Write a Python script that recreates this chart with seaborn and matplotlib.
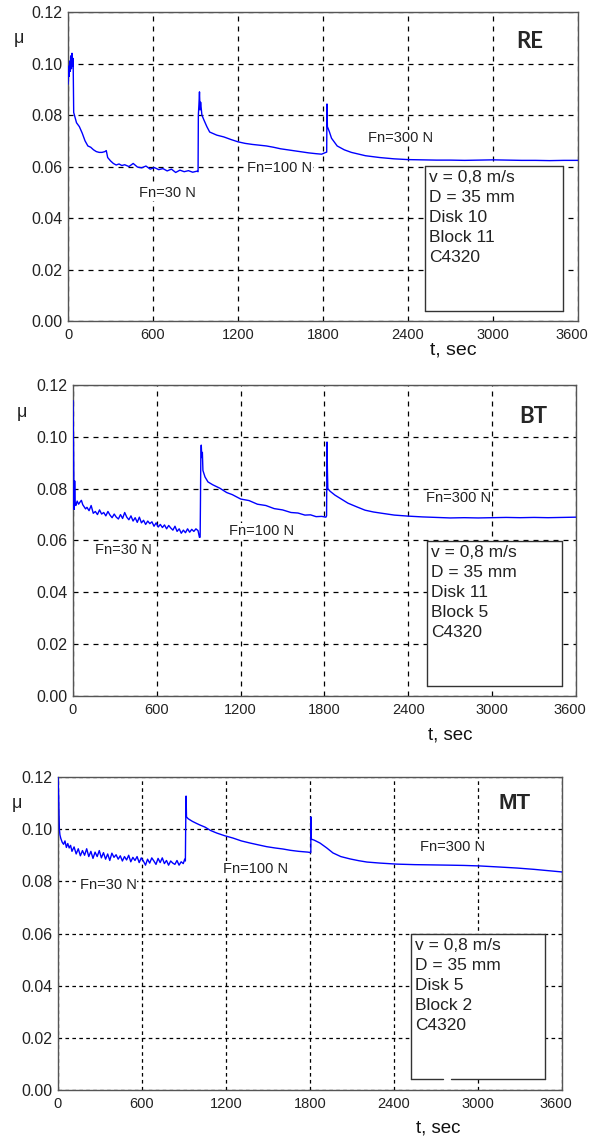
import matplotlib
matplotlib.use("Agg")
import matplotlib.pyplot as plt
import matplotlib.transforms as mtransforms
import seaborn as sns
import pandas as pd
from matplotlib.patches import Rectangle

# estilo
sns.set_style("white")
plt.rcParams["font.family"] = ["Liberation Sans", "DejaVu Sans"]
plt.rcParams["lines.scale_dashes"] = False

# eixos (comuns)
x_ticks = [0, 600, 1200, 1800, 2400, 3000, 3600]
y_ticks = [0.00, 0.02, 0.04, 0.06, 0.08, 0.10, 0.12]
box_lines = ["v = 0,8 m/s", "D = 35 mm"]

# ---------------- RE ----------------
re_t1 = [0, 4, 8, 12, 16, 20, 24, 28, 32, 36, 40, 50, 60, 80, 100, 120, 140, 160, 180, 200,
         220, 240, 260, 270, 280, 300, 320, 340, 360, 380, 400, 430, 460, 490, 520, 550, 580, 610, 640, 670,
         700, 730, 760, 790, 820, 850, 880, 910]
re_mu1 = [0.092, 0.099, 0.095, 0.101, 0.097, 0.103, 0.098, 0.104, 0.099, 0.102,
          0.081, 0.079, 0.077, 0.0755, 0.073, 0.070, 0.068, 0.0675, 0.0665, 0.0658,
          0.0655, 0.0655, 0.0658, 0.0662, 0.0635, 0.0622, 0.0612, 0.0606, 0.0610, 0.0604,
          0.0607, 0.0600, 0.0612, 0.0598, 0.0595, 0.0602, 0.0590, 0.0596, 0.0588, 0.0592,
          0.0583, 0.0590, 0.0577, 0.0586, 0.0580, 0.0584, 0.0578, 0.0582]
re_t2 = [918, 920, 924, 928, 932, 936, 945, 960, 980, 1000, 1050, 1100, 1150, 1200, 1250, 1300,
         1350, 1400, 1450, 1500, 1550, 1600, 1650, 1700, 1750, 1790, 1820]
re_mu2 = [0.058, 0.080, 0.084, 0.089, 0.082, 0.085, 0.080, 0.078, 0.0755, 0.0734, 0.0722, 0.0715,
          0.0705, 0.0696, 0.0690, 0.0686, 0.0683, 0.0680, 0.0675, 0.0669, 0.0665, 0.0661, 0.0657,
          0.0653, 0.0650, 0.0648, 0.0655]
re_t3 = [1826, 1828, 1831, 1845, 1860, 1880, 1900, 1950, 2000, 2100, 2200, 2300, 2400, 2500,
         2600, 2700, 2800, 2900, 3000, 3100, 3200, 3300, 3400, 3500, 3600]
re_mu3 = [0.0656, 0.0843, 0.0755, 0.0735, 0.0710, 0.0695, 0.0680, 0.0665, 0.0655, 0.0642, 0.0635,
          0.0630, 0.0627, 0.0626, 0.0625, 0.0625, 0.0624, 0.0625, 0.0626, 0.0625, 0.0624, 0.0624,
          0.0623, 0.0624, 0.0624]

# ---------------- BT ----------------
bt_t1 = [0, 4, 8, 12, 16, 20, 30, 40, 50, 60, 70, 80, 90, 100, 115, 130, 145, 160, 175, 190,
         205, 220, 235, 250, 265, 280, 295, 310, 325, 340, 355, 370, 385, 400, 415, 430, 445, 460,
         475, 490, 505, 520, 535, 550, 565, 580, 595, 610, 625, 640, 655, 670, 685, 700, 715, 730,
         745, 760, 775, 790, 805, 820, 835, 850, 865, 880, 895, 905]
bt_mu1 = [0.114, 0.095, 0.072, 0.083, 0.0745, 0.0735, 0.0752, 0.0740, 0.0748, 0.0755,
          0.0738, 0.0730, 0.0722, 0.0728, 0.0715, 0.0735, 0.0705, 0.0712, 0.0700, 0.0718,
          0.0702, 0.0708, 0.0695, 0.0712, 0.0698, 0.0688, 0.0702, 0.0690, 0.0683, 0.0700,
          0.0685, 0.0708, 0.0690, 0.0680, 0.0695, 0.0675, 0.0688, 0.0670, 0.0690, 0.0668,
          0.0678, 0.0662, 0.0675, 0.0665, 0.0672, 0.0655, 0.0668, 0.0652, 0.0662, 0.0650,
          0.0660, 0.0645, 0.0658, 0.0648, 0.0640, 0.0655, 0.0635, 0.0645, 0.0628, 0.0640,
          0.0630, 0.0645, 0.0632, 0.0643, 0.0635, 0.0645, 0.0638, 0.0612]
bt_t2 = [910, 912, 915, 918, 922, 926, 930, 945, 966, 1000, 1050, 1100, 1140, 1200, 1260, 1320,
         1380, 1440, 1500, 1560, 1610, 1660, 1700, 1740, 1780, 1810]
bt_mu2 = [0.0613, 0.073, 0.093, 0.0968, 0.092, 0.094, 0.087, 0.0845, 0.0826, 0.0815, 0.0802,
          0.0785, 0.0777, 0.0760, 0.0754, 0.0740, 0.0735, 0.0723, 0.0718, 0.0708, 0.0706,
          0.0698, 0.0699, 0.0692, 0.0693, 0.0690]
bt_t3 = [1815, 1818, 1821, 1824, 1840, 1875, 1920, 1968, 2030, 2090, 2150, 2211, 2300, 2400,
         2500, 2600, 2700, 2800, 2900, 3000, 3100, 3200, 3300, 3400, 3500, 3600]
bt_mu3 = [0.0695, 0.098, 0.087, 0.080, 0.079, 0.0775, 0.0760, 0.0744, 0.0730, 0.0717, 0.0710,
          0.0705, 0.0698, 0.0694, 0.0691, 0.0689, 0.0687, 0.0688, 0.0687, 0.0688, 0.0689,
          0.0688, 0.0689, 0.0688, 0.0689, 0.0690]

# ---------------- MT ----------------
mt_t1 = [0, 5, 10, 14, 20, 30, 40, 50, 60, 70, 80, 90, 100, 115, 130, 145, 160, 175, 190, 205,
         220, 235, 250, 265, 280, 295, 310, 325, 340, 355, 370, 385, 400, 415, 430, 445, 460, 475,
         490, 505, 520, 535, 550, 565, 580, 595, 610, 625, 640, 655, 670, 685, 700, 715, 730, 745,
         760, 775, 790, 805, 820, 835, 850, 865, 880, 895, 905]
mt_mu1 = [0.120, 0.112, 0.100, 0.0978, 0.0965, 0.0950, 0.0942, 0.0955, 0.0930, 0.0945,
          0.0928, 0.0938, 0.0915, 0.0932, 0.0905, 0.0925, 0.0898, 0.0918, 0.0900, 0.0925,
          0.0895, 0.0915, 0.0888, 0.0912, 0.0895, 0.0918, 0.0890, 0.0910, 0.0885, 0.0905,
          0.0880, 0.0908, 0.0892, 0.0902, 0.0885, 0.0898, 0.0878, 0.0895, 0.0882, 0.0900,
          0.0875, 0.0892, 0.0880, 0.0895, 0.0872, 0.0890, 0.0878, 0.0862, 0.0885, 0.0870,
          0.0890, 0.0878, 0.0865, 0.0888, 0.0872, 0.0890, 0.0868, 0.0880, 0.0862, 0.0878,
          0.0870, 0.0865, 0.0880, 0.0862, 0.0875, 0.0868, 0.0885]
mt_t2 = [910, 912, 915, 918, 930, 960, 990, 1014, 1050, 1090, 1135, 1190, 1250, 1310, 1371,
         1430, 1490, 1550, 1607, 1660, 1720, 1786, 1805]
mt_mu2 = [0.0878, 0.100, 0.1127, 0.1047, 0.1040, 0.1030, 0.1022, 0.1016, 0.1008, 0.0995,
          0.0985, 0.0975, 0.0966, 0.0955, 0.0947, 0.0940, 0.0933, 0.0928, 0.0924, 0.0919,
          0.0915, 0.0912, 0.0910]
mt_t3 = [1806, 1807, 1809, 1830, 1871, 1920, 1964, 2020, 2086, 2150, 2207, 2300, 2421, 2550,
         2679, 2800, 2900, 3014, 3150, 3279, 3400, 3500, 3600]
mt_mu3 = [0.0912, 0.1047, 0.0962, 0.0958, 0.0947, 0.0928, 0.0909, 0.0895, 0.0886, 0.0879,
          0.0874, 0.0870, 0.0866, 0.0864, 0.0863, 0.0862, 0.0861, 0.0859, 0.0855, 0.0851,
          0.0846, 0.0841, 0.0836]

# configuracao dos paineis: [left, bottom, width, height] em fracoes da figura
panels = [
    dict(name="RE", t=re_t1 + re_t2 + re_t3, mu=re_mu1 + re_mu2 + re_mu3,
         rect=[0.1151, 0.7179, 0.8629, 0.2715], info=["Disk 10", "Block 11", "C4320"],
         fn=[(699, 0.0497, "Fn=30 N"), (1496, 0.0594, "Fn=100 N"), (2344, 0.0710, "Fn=300 N")],
         box=(2520, 0.0039, 974, 0.0563), title_font="Lato", title_pos=(0.905, 0.905),
         mu_pos=(-0.096, 0.916), xl_pos=(0.755, -0.094), xl_size=14, dash=(3.6, 3.6), gap=None),
    dict(name="BT", t=bt_t1 + bt_t2 + bt_t3, mu=bt_mu1 + bt_mu2 + bt_mu3,
         rect=[0.1235, 0.3884, 0.8511, 0.2733], info=["Disk 11", "Block 5", "C4320"],
         fn=[(358, 0.0563, "Fn=30 N"), (1353, 0.0637, "Fn=100 N"), (2763, 0.0764, "Fn=300 N")],
         box=(2534, 0.0039, 966, 0.0559), title_font="Lato", title_pos=(0.915, 0.900),
         mu_pos=(-0.101, 0.913), xl_pos=(0.75, -0.125), xl_size=13.5, dash=(3.6, 3.6), gap=None),
    dict(name="MT", t=mt_t1 + mt_t2 + mt_t3, mu=mt_mu1 + mt_mu2 + mt_mu3,
         rect=[0.0981, 0.0422, 0.8528, 0.2750], info=["Disk 5", "Block 2", "C4320"],
         fn=[(357, 0.0786, "Fn=30 N"), (1414, 0.0847, "Fn=100 N"), (2821, 0.0932, "Fn=300 N")],
         box=(2521, 0.0042, 958, 0.0556), title_font="Liberation Sans", title_pos=(0.905, 0.917),
         mu_pos=(-0.081, 0.917), xl_pos=(0.754, -0.121), xl_size=13.5, dash=(2.6, 2.4),
         gap=(2747, 2807)),
]

fig = plt.figure(figsize=(5.91, 11.38), dpi=100)
# desloca o ultimo rotulo (3600) um pouco para a esquerda, como no original
shift_left = mtransforms.ScaledTranslation(-0.06, 0, fig.dpi_scale_trans)

for p in panels:
    ax = fig.add_axes(p["rect"])
    df = pd.DataFrame({"t": p["t"], "mu": p["mu"]})
    sns.lineplot(data=df, x="t", y="mu", ax=ax, color="#0000ff", linewidth=1.0,
                 sort=False, estimator=None, zorder=3)

    ax.set_xlim(0, 3600)
    ax.set_ylim(0, 0.12)
    ax.set_xticks(x_ticks)
    ax.set_yticks(y_ticks)
    ax.set_xticklabels([str(v) for v in x_ticks])
    ax.set_yticklabels(["%.2f" % v for v in y_ticks])
    ax.tick_params(length=0, colors="#222222", pad=4)
    ax.tick_params(axis="x", labelsize=10.5, pad=5)
    ax.tick_params(axis="y", labelsize=11.5)
    last = ax.get_xticklabels()[-1]
    last.set_transform(last.get_transform() + shift_left)
    ax.set_xlabel("")
    ax.set_ylabel("")
    ax.grid(True, color="black", linestyle=(0, p["dash"]), linewidth=0.9)
    for s in ax.spines.values():
        s.set_color("#555555")
        s.set_linewidth(1.0)

    # caixa com as condicoes do ensaio
    bx, by, bw, bh = p["box"]
    ax.add_patch(Rectangle((bx, by), bw, bh, facecolor="white", edgecolor="none", zorder=4))
    edge = dict(color="#333333", linewidth=1.0, zorder=5)
    ax.plot([bx, bx], [by, by + bh], **edge)
    ax.plot([bx + bw, bx + bw], [by, by + bh], **edge)
    ax.plot([bx, bx + bw], [by + bh, by + bh], **edge)
    if p["gap"] is None:
        ax.plot([bx, bx + bw], [by, by], **edge)
    else:
        ax.plot([bx, p["gap"][0]], [by, by], **edge)
        ax.plot([p["gap"][1], bx + bw], [by, by], **edge)
    ax.text(bx + 30, by + bh - 0.0016, "\n".join(box_lines + p["info"]), fontsize=12.5,
            va="top", ha="left", linespacing=1.42, color="#222222", zorder=6)

    for tx, ty, lab in p["fn"]:
        ax.text(tx, ty, lab, fontsize=10.5, ha="center", va="center", color="#222222", zorder=6,
                bbox=dict(facecolor="white", edgecolor="none", pad=0.5))

    ax.text(p["title_pos"][0], p["title_pos"][1], p["name"], transform=ax.transAxes,
            fontsize=16, fontweight="bold", family=p["title_font"], ha="center", va="center")
    ax.text(p["mu_pos"][0], p["mu_pos"][1], "μ", transform=ax.transAxes, fontsize=13,
            ha="center", va="center", color="#222222")
    ax.text(p["xl_pos"][0], p["xl_pos"][1], "t, sec", transform=ax.transAxes,
            fontsize=p["xl_size"], ha="center", va="center", color="#111111")

fig.savefig("out.png", dpi=100)
